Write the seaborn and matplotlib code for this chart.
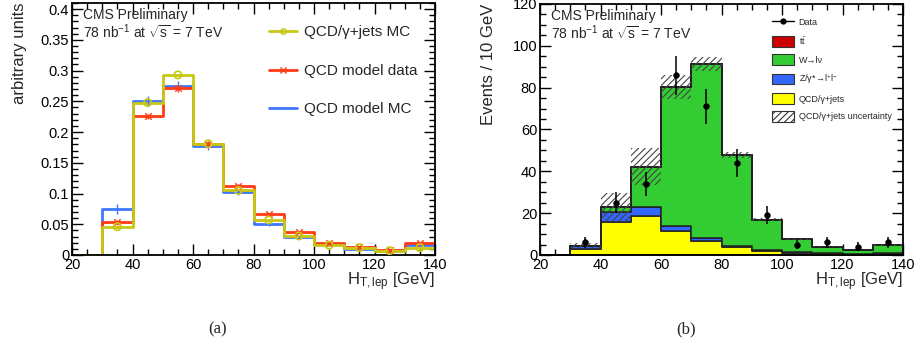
import matplotlib
matplotlib.use("Agg")
import matplotlib.pyplot as plt
import matplotlib.ticker as tick
from matplotlib.lines import Line2D
from matplotlib.patches import Patch
import numpy as np
import pandas as pd
import seaborn as sns

# ------------------------------ data
EDGES = [20, 30, 40, 50, 60, 70, 80, 90, 100, 110, 120, 130, 140]
CENTERS = [25, 35, 45, 55, 65, 75, 85, 95, 105, 115, 125, 135]

# (a) shapes, arbitrary units
qcd_mc = [0.0, 0.046, 0.248, 0.293, 0.181, 0.105, 0.057, 0.031, 0.016, 0.012, 0.007, 0.012]
qcd_mc_err = [0.0, 0.002, 0.004, 0.004, 0.003, 0.002, 0.002, 0.001, 0.001, 0.001, 0.001, 0.001]
model_data = [0.0, 0.053, 0.226, 0.271, 0.181, 0.113, 0.066, 0.037, 0.020, 0.0135, 0.0087, 0.0195]
model_data_err = [0.0, 0.004, 0.004, 0.005, 0.004, 0.003, 0.002, 0.002, 0.001, 0.001, 0.001, 0.001]
model_mc = [0.0, 0.075, 0.251, 0.275, 0.178, 0.102, 0.050, 0.029, 0.018, 0.009, 0.006, 0.016]
model_mc_err = [0.0, 0.008, 0.008, 0.008, 0.007, 0.004, 0.003, 0.002, 0.002, 0.001, 0.001, 0.002]

# (b) event counts per 10 GeV
qcd_evt = [0.0, 2.9, 15.6, 18.5, 11.5, 6.7, 3.8, 1.9, 1.1, 0.8, 0.5, 0.6]
z_evt = [0.0, 1.2, 5.1, 4.4, 2.3, 1.3, 0.3, 0.5, 0.3, 0.2, 0.1, 0.2]
w_evt = [0.0, 0.4, 2.1, 19.3, 66.4, 83.4, 43.8, 14.5, 6.1, 3.0, 1.8, 4.0]
tt_evt = [0.0, 0.0, 0.0, 0.0, 0.0, 0.0, 0.0, 0.0, 0.0, 0.0, 0.0, 0.0]
qcd_unc = [0.0, 1.2, 6.9, 8.9, 5.8, 3.2, 1.5, 0.8, 0.4, 0.3, 0.2, 0.3]
data_evt = [0, 6, 25, 34, 86, 71, 44, 19, 5, 6, 4, 6]
data_err = [0, 2.5, 5.0, 5.8, 9.3, 8.4, 6.6, 4.4, 2.2, 2.5, 2.0, 2.5]

# ------------------------------ style
YELLOW_L = "#c8c814"
RED_L = "#ff3a14"
BLUE_L = "#3f78ff"
C_TT = "#cc0000"
C_W = "#33cc33"
C_Z = "#3366ff"
C_QCD = "#ffff00"

sns.set_style("ticks")
plt.rcParams["font.family"] = ["Liberation Sans", "DejaVu Sans"]
plt.rcParams["mathtext.fontset"] = "custom"
plt.rcParams["mathtext.rm"] = "Liberation Sans"
plt.rcParams["mathtext.it"] = "Liberation Sans:italic"
plt.rcParams["hatch.linewidth"] = 0.8

DPI = 100
FIGSIZE = (916 / DPI, 350 / DPI)


def root_frame(ax, ymajor, yminor):
    for s in ax.spines.values():
        s.set_visible(True)
        s.set_linewidth(1.3)
        s.set_color("black")
    ax.xaxis.set_major_locator(tick.MultipleLocator(20))
    ax.xaxis.set_minor_locator(tick.MultipleLocator(5))
    ax.yaxis.set_major_locator(tick.MultipleLocator(ymajor))
    ax.yaxis.set_minor_locator(tick.MultipleLocator(yminor))
    ax.tick_params(which="both", direction="in", top=True, right=True,
                   labelsize=10.5, colors="black", width=1)
    ax.tick_params(which="major", length=8, pad=2)
    ax.tick_params(which="minor", length=4)
    ax.set_xlim(20, 140)


def cms_text(ax):
    ax.text(0.03, 0.952, "CMS Preliminary", transform=ax.transAxes,
            fontsize=10, va="center", ha="left")
    ax.text(0.03, 0.885, r"78 nb$^{-1}$ at $\sqrt{\mathrm{s}}$ = 7 TeV",
            transform=ax.transAxes, fontsize=10, va="center", ha="left")


fig = plt.figure(figsize=FIGSIZE, dpi=DPI)
ax1 = fig.add_axes([72 / 916, 1 - 255 / 350, 363 / 916, 252 / 350])
ax2 = fig.add_axes([540 / 916, 1 - 255 / 350, 363 / 916, 251 / 350])

# ------------------------------ (a)
shapes = pd.DataFrame({"center": CENTERS, "mc": qcd_mc, "data": model_data, "model_mc": model_mc})
for col, color in [("model_mc", BLUE_L), ("data", RED_L), ("mc", YELLOW_L)]:
    sns.histplot(data=shapes, x="center", weights=col, bins=EDGES, element="step",
                 fill=False, color=color, linewidth=2, ax=ax1)

ax1.errorbar(CENTERS[1:], model_mc[1:], yerr=model_mc_err[1:], fmt="none",
             ecolor=BLUE_L, elinewidth=1, capsize=0)
ax1.errorbar(CENTERS[1:], model_data[1:], yerr=model_data_err[1:], fmt="none",
             ecolor=RED_L, elinewidth=1, capsize=0)
sns.scatterplot(x=CENTERS[1:], y=model_data[1:], marker="x", color=RED_L, s=22,
                linewidth=1, ax=ax1, zorder=5)
sns.scatterplot(x=CENTERS[1:], y=qcd_mc[1:], marker="o", facecolor="none",
                edgecolor=YELLOW_L, s=28, linewidth=1.2, ax=ax1, zorder=6)

root_frame(ax1, 0.05, 0.01)
ax1.set_ylim(0, 0.41)
ax1.yaxis.set_major_formatter(tick.FuncFormatter(lambda v, p: "0" if v == 0 else f"{v:g}"))
ax1.set_xlabel(r"H$_{\mathrm{T,lep}}$ [GeV]", fontsize=12, loc="right")
ax1.xaxis.set_label_coords(1.0, -0.06)
ax1.set_ylabel("arbitrary units", fontsize=12, loc="top")
ax1.yaxis.set_label_coords(-0.125, 1.0)
cms_text(ax1)

leg_a = [
    Line2D([], [], color=YELLOW_L, lw=2, marker="o", ms=4, mfc="none", mew=1),
    Line2D([], [], color=RED_L, lw=2, marker="x", ms=4, mew=1),
    Line2D([], [], color=BLUE_L, lw=2),
]
ax1.legend(leg_a, ["QCD/γ+jets MC", "QCD model data", "QCD model MC"],
           loc="upper left", bbox_to_anchor=(0.543, 0.911), frameon=False,
           fontsize=11, handlelength=1.85, handletextpad=0.45,
           labelspacing=1.6, borderpad=0, borderaxespad=0)

# ------------------------------ (b)
stack = pd.DataFrame({
    "center": CENTERS * 4,
    "events": tt_evt + w_evt + z_evt + qcd_evt,
    "process": ["tt"] * 12 + ["W"] * 12 + ["Z"] * 12 + ["QCD"] * 12,
})
sns.histplot(data=stack, x="center", weights="events", hue="process",
             hue_order=["tt", "W", "Z", "QCD"], bins=EDGES, multiple="stack",
             element="step", fill=True, alpha=1,
             palette={"tt": C_TT, "W": C_W, "Z": C_Z, "QCD": C_QCD},
             edgecolor="#222222", linewidth=1.1, legend=False, ax=ax2)

total = np.array(qcd_evt) + np.array(z_evt) + np.array(w_evt) + np.array(tt_evt)
unc = np.array(qcd_unc)
ax2.bar(CENTERS, 2 * unc, bottom=total - unc, width=10, fill=False,
        hatch="/////", edgecolor="#444444", linewidth=0, zorder=4)

ax2.errorbar(CENTERS[1:], data_evt[1:], yerr=data_err[1:], fmt="none",
             ecolor="black", elinewidth=1.1, capsize=0, zorder=6)
sns.scatterplot(x=CENTERS[1:], y=data_evt[1:], color="black", s=18,
                edgecolor="black", ax=ax2, zorder=7)

root_frame(ax2, 20, 5)
ax2.set_ylim(0, 120)
ax2.set_xlabel(r"H$_{\mathrm{T,lep}}$ [GeV]", fontsize=12, loc="right")
ax2.xaxis.set_label_coords(1.0, -0.06)
ax2.set_ylabel("Events / 10 GeV", fontsize=12, loc="top")
ax2.yaxis.set_label_coords(-0.12, 1.0)
cms_text(ax2)

leg_b = [
    Line2D([], [], color="black", lw=1, marker="o", ms=3.5),
    Patch(facecolor=C_TT, edgecolor="#333333", lw=0.8),
    Patch(facecolor=C_W, edgecolor="#333333", lw=0.8),
    Patch(facecolor=C_Z, edgecolor="#333333", lw=0.8),
    Patch(facecolor=C_QCD, edgecolor="#333333", lw=0.8),
    Patch(facecolor="white", edgecolor="#333333", lw=0.8, hatch="/////"),
]
labels_b = ["Data", r"t$\bar{\mathrm{t}}$", "W→lν", r"Z/γ*→l$^{+}$l$^{-}$",
            "QCD/γ+jets", "QCD/γ+jets uncertainty"]
ax2.legend(leg_b, labels_b, loc="upper left", bbox_to_anchor=(0.64, 0.948),
           frameon=False, fontsize=6.5, handlelength=2.4, handleheight=1.45,
           handletextpad=0.5, labelspacing=0.8, borderpad=0, borderaxespad=0)

# ------------------------------ captions
fig.text(218 / 916, 1 - 329 / 350, "(a)", fontsize=12, ha="center", va="center",
         family=["Liberation Serif", "DejaVu Serif"])
fig.text(686 / 916, 1 - 329 / 350, "(b)", fontsize=12, ha="center", va="center",
         family=["Liberation Serif", "DejaVu Serif"])

fig.savefig("out.png", dpi=DPI)
